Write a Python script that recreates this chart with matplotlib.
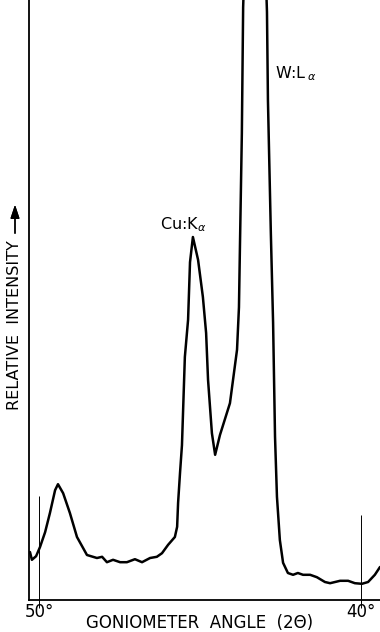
import matplotlib
matplotlib.use('Agg')
import matplotlib.pyplot as plt

# Diffractometer trace, goniometer angle (2-theta, degrees) vs relative intensity
angle = [50.28, 50.22, 50.09, 49.97, 49.81, 49.66, 49.50, 49.41, 49.25, 49.04,
         48.82, 48.51, 48.20, 48.04, 47.89, 47.70, 47.48, 47.27, 47.02, 46.80,
         46.55, 46.34, 46.18, 45.99, 45.78, 45.71, 45.68, 45.62, 45.56, 45.47,
         45.37, 45.31, 45.22, 45.06, 44.91, 44.81, 44.75, 44.63, 44.53, 44.38,
         44.07, 43.85, 43.79, 43.76, 43.70, 43.66, 43.29, 42.92, 42.89, 42.80,
         42.73, 42.67, 42.61, 42.52, 42.42, 42.27, 42.11, 41.96, 41.80, 41.58,
         41.37, 41.12, 40.96, 40.65, 40.40, 40.19, 39.97, 39.78, 39.57, 39.41]
intensity = [8.0, 6.7, 7.3, 8.8, 11.3, 14.5, 18.3, 19.3, 17.8, 14.5,
             10.5, 7.5, 7.0, 7.2, 6.3, 6.7, 6.3, 6.3, 6.8, 6.3,
             7.0, 7.2, 7.8, 9.2, 10.5, 12.2, 16.2, 21.2, 25.8, 40.5,
             46.7, 56.3, 60.5, 56.7, 50.5, 44.5, 36.7, 27.8, 24.2, 27.5,
             32.8, 41.7, 48.8, 58.7, 77.8, 98.8, 160.0, 98.0, 83.3, 61.2,
             46.2, 27.2, 17.2, 10.0, 6.2, 4.5, 4.2, 4.5, 4.2, 4.2,
             3.8, 3.0, 2.8, 3.2, 3.2, 2.8, 2.7, 3.0, 4.2, 5.5]

tick_angles = [50, 40]
tick_labels = ['50°', '40°']

fig = plt.figure(figsize=(3.8, 6.32), dpi=100)
ax = fig.add_axes([29 / 380, 32 / 632, 351 / 380, 600 / 632])

ax.plot(angle, intensity, color='black', lw=1.8, solid_joinstyle='round',
        solid_capstyle='round')

ax.set_xlim(50.31, 39.41)
ax.set_ylim(0, 100)

for s in ['top', 'right']:
    ax.spines[s].set_visible(False)
for s in ['left', 'bottom']:
    ax.spines[s].set_linewidth(1.3)

ax.set_yticks([])
ax.set_xticks(tick_angles)
ax.set_xticklabels(tick_labels, fontsize=12)
ax.tick_params(axis='x', length=0, pad=2)

# thin reference marks at the labelled angles
ax.vlines(tick_angles[0], -1.3, 17.3, color='black', lw=0.7, clip_on=False)
ax.vlines(tick_angles[1], -1.3, 14.2, color='black', lw=0.7, clip_on=False)

ax.text(46.24, 62.6, 'Cu:K$_{\\alpha}$', fontsize=11.5, va='center', ha='left')
ax.text(42.67, 87.8, 'W:L$\\,_{\\alpha}$', fontsize=11.5, va='center', ha='left')

fig.text(200 / 380, 1 - 623 / 632, 'GONIOMETER  ANGLE  (2Θ)', fontsize=12,
         ha='center', va='center')
fig.text(15 / 380, 1 - 325 / 632, 'RELATIVE  INTENSITY', fontsize=11.5,
         rotation=90, ha='center', va='center')
fig.add_artist(plt.annotate('', xy=(15 / 380, 1 - 202 / 632),
                            xytext=(15 / 380, 1 - 236 / 632),
                            xycoords='figure fraction',
                            arrowprops=dict(arrowstyle='-|>,head_length=0.9,head_width=0.3',
                                            color='black', lw=1.0,
                                            mutation_scale=9)))

fig.savefig('out.png', dpi=100)
